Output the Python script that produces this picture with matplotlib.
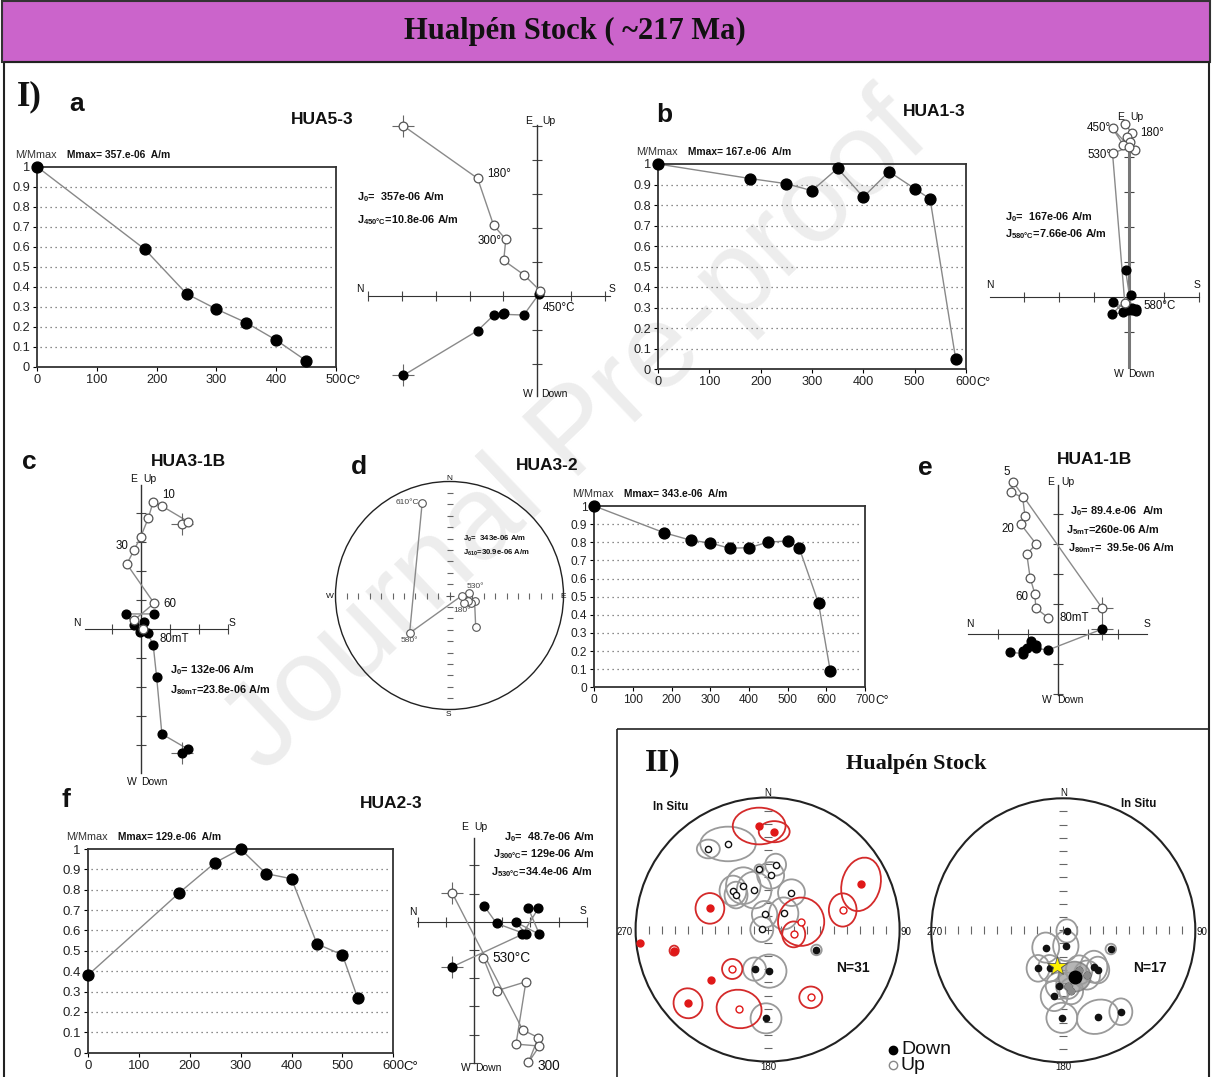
import numpy as np
import matplotlib
matplotlib.use('Agg')
import matplotlib.pyplot as plt
from matplotlib.patches import Rectangle, Circle, Ellipse

W, H = 1213, 1077
plt.rcParams['font.family'] = ['Liberation Sans', 'DejaVu Sans']
SERIF = ['Liberation Serif', 'DejaVu Serif']

# ---------------- data ----------------
# normalised intensity decay (M/Mmax) vs temperature
a_temp = [0, 180, 250, 300, 350, 400, 450]
a_ratio = [1.0, 0.588, 0.365, 0.288, 0.22, 0.133, 0.03]
b_temp = [0, 180, 250, 300, 350, 400, 450, 500, 530, 580]
b_ratio = [1.0, 0.929, 0.904, 0.870, 0.979, 0.839, 0.963, 0.880, 0.830, 0.049]
d_temp = [0, 180, 250, 300, 350, 400, 450, 500, 530, 580, 610]
d_ratio = [1.0, 0.853, 0.811, 0.796, 0.767, 0.770, 0.801, 0.807, 0.768, 0.463, 0.092]
f_temp = [0, 180, 250, 300, 350, 400, 450, 500, 530]
f_ratio = [0.380, 0.786, 0.933, 1.0, 0.879, 0.854, 0.534, 0.480, 0.267]

# Zijderveld diagrams (axis-tick units); h = horizontal proj. (filled), v = vertical proj. (open)
a_hx = [-3.95, -1.76, -1.28, -0.97, -1.00, -0.40, 0.05]
a_hy = [-2.35, -1.03, -0.57, -0.52, -0.55, -0.57, 0.05]
a_vx = [-3.95, -1.76, -1.29, -0.93, -0.99, -0.40, 0.08]
a_vz = [5.01, 3.46, 2.08, 1.66, 1.04, 0.62, 0.15]

b_hx = [-0.10, 0.08, 0.19, 0.08, 0.19, -0.02, -0.47, -0.16, -0.49, 0.05]
b_hy = [0.78, -0.36, -0.34, -0.30, -0.38, -0.36, -0.13, -0.43, -0.49, 0.07]
b_vx = [-0.11, 0.08, -0.07, 0.03, 0.17, -0.16, -0.47, 0.00, -0.47, -0.12]
b_vz = [4.95, 4.69, 4.57, 4.45, 4.21, 4.35, 4.83, 4.30, 4.11, -0.17]

c_hx = [1.39, 1.62, 0.71, 0.53, 0.41, 0.22, 0.09, -0.05, -0.24, -0.53, 0.44]
c_hy = [-4.28, -4.14, -3.61, -1.66, -0.54, -0.14, 0.25, -0.08, 0.14, 0.53, 0.53]
c_vx = [1.39, 1.62, 0.71, 0.41, 0.24, -0.02, -0.25, -0.50, 0.44, -0.24, 0.07]
c_vz = [3.62, 3.71, 4.25, 4.40, 3.83, 3.19, 2.73, 2.25, 0.90, 0.32, 0.02]

e_hx = [1.47, -0.31, -0.73, -0.89, -0.73, -1.03, -1.17, -1.17, -1.58]
e_hy = [0.17, -0.52, -0.47, -0.21, -0.36, -0.47, -0.56, -0.64, -0.60]
e_vx = [1.47, -1.48, -1.56, -1.17, -1.09, -1.23, -0.72, -1.03, -0.92, -0.76, -0.73, -0.31]
e_vz = [0.89, 5.07, 4.73, 4.57, 3.95, 3.67, 3.01, 2.67, 1.89, 1.34, 0.87, 0.55]

f_hx = [-0.77, 1.71, 2.28, 1.93, 2.32, 1.49, 1.86, 0.80, 0.35]
f_hy = [-1.60, -0.45, 0.47, 0.47, -0.45, -0.02, -0.45, -0.06, 0.57]
f_vx = [-0.77, 1.73, 2.28, 1.93, 2.32, 1.49, 1.84, 0.80, 0.33]
f_vz = [1.01, -3.84, -4.11, -4.99, -4.41, -4.34, -2.13, -2.45, -1.28]

# d) HUA3-2 stereonet path (east, north on unit net), all upper hemisphere
d_e = [0.23, 0.22, 0.19, 0.16, 0.13, 0.17, 0.11, -0.35, -0.24]
d_n = [-0.28, -0.05, -0.07, -0.05, -0.07, 0.02, 0.00, -0.33, 0.81]

# II) site means, in situ, N=31 (red group and gray group)
r_e = [-0.064, 0.050, 0.708, 0.569, -0.437, 0.254, 0.198, -0.968, -0.708, -0.429, -0.268, -0.603, -0.216, 0.327]
r_n = [0.784, 0.741, 0.342, 0.148, 0.160, 0.059, -0.037, -0.100, -0.160, -0.382, -0.299, -0.559, -0.602, -0.514]
r_down = [1, 1, 1, 0, 1, 0, 0, 1, 1, 1, 0, 1, 0, 0]
r_a95x = [0.20, 0.117, 0.146, 0.105, 0.109, 0.175, 0.087, 0, 0.035, 0, 0.077, 0.109, 0.171, 0.087]
r_a95y = [0.139, 0.080, 0.206, 0.126, 0.116, 0.183, 0.098, 0, 0.038, 0, 0.076, 0.114, 0.145, 0.082]
r_ang = [0, 0, -15, 0, 0, 0, 0, 0, 0, 0, 0, 20, -10, 0]

g_e = [-0.449, -0.300, 0.061, -0.064, 0.023, -0.184, -0.262, -0.239, -0.102, 0.181, -0.023, 0.122, -0.044, 0.370, -0.099, 0.012, -0.012]
g_n = [0.610, 0.648, 0.491, 0.458, 0.410, 0.332, 0.294, 0.261, 0.299, 0.279, 0.115, 0.122, 0.001, -0.155, -0.300, -0.315, -0.673]
g_down = [0, 0, 0, 0, 0, 0, 0, 0, 0, 0, 0, 0, 0, 1, 1, 1, 1]
g_a95x = [0.087, 0.21, 0.079, 0.035, 0.102, 0.131, 0.102, 0.087, 0.131, 0.102, 0.096, 0.111, 0.087, 0.04, 0.087, 0.131, 0.117]
g_a95y = [0.071, 0.131, 0.083, 0.035, 0.101, 0.139, 0.114, 0.101, 0.139, 0.101, 0.101, 0.121, 0.096, 0.04, 0.088, 0.126, 0.114]

# II) N=17 selected sites
s_e = [0.027, 0.019, -0.133, -0.191, -0.104, 0.232, 0.261, -0.031, -0.069, -0.011, 0.260, 0.436, 0.360, 0.179, 0.035, 0.06, 0.12]
s_n = [-0.005, -0.119, -0.131, -0.288, -0.288, -0.276, -0.301, -0.420, -0.498, -0.663, -0.655, -0.617, -0.142, -0.339, -0.42, -0.46, -0.30]
s_a95x = [0.079, 0.096, 0.102, 0.087, 0.087, 0.102, 0.087, 0.102, 0.102, 0.117, 0.16, 0.087, 0.04, 0.10, 0.09, 0.09, 0.10]
s_a95y = [0.088, 0.114, 0.114, 0.101, 0.101, 0.121, 0.101, 0.101, 0.114, 0.114, 0.126, 0.101, 0.04, 0.11, 0.10, 0.10, 0.11]
s_ang = [0, 0, 0, 0, 0, 0, 0, 0, 0, 0, 20, 0, 0, 0, 0, 0, 0]
s_faint = [0, 0, 0, 0, 0, 0, 0, 0, 0, 0, 0, 0, 0, 1, 1, 1, 1]
mean_e, mean_n, mean_a95x, mean_a95y = 0.085, -0.351, 0.122, 0.114
ref_e, ref_n = -0.045, -0.268

# ---------------- figure ----------------
fig = plt.figure(figsize=(W / 100, H / 100), dpi=100)
bg = fig.add_axes([0, 0, 1, 1])
bg.set_xlim(0, W)
bg.set_ylim(H, 0)
bg.axis('off')


def px_axes(x0, y0, x1, y1):
    ax = fig.add_axes([x0 / W, 1 - y1 / H, (x1 - x0) / W, (y1 - y0) / H])
    ax.patch.set_alpha(0)
    return ax


def txt(x, y, s, size=8, bold=False, ha='left', family=None, **kw):
    bg.text(x, y, s, fontsize=size, fontweight='bold' if bold else 'normal', ha=ha, va='center',
            family=family if family else plt.rcParams['font.family'], color=kw.pop('color', '#111'), **kw)


# frames and header
bg.text(577, 435, 'Journal Pre-proof', rotation=43.5, fontsize=86, color='#EDEDED',
        ha='center', va='center', zorder=0)
bg.add_patch(Rectangle((2, 1), 1208, 61, fc='#CB64CB', ec='#333', lw=1.5))
bg.add_patch(Rectangle((4, 62), 1205, 1030, fill=False, ec='#222', lw=1.5))
bg.add_patch(Rectangle((617, 729), 592, 360, fill=False, ec='#222', lw=1.2))
txt(575, 31, 'Hualpén Stock ( ~217 Ma)', 22, True, 'center', SERIF)
txt(17, 97, 'I)', 25, True, 'left', SERIF)
txt(663, 763, 'II)', 23, True, 'center', SERIF)
txt(916, 764, 'Hualpén Stock', 16, True, 'center', SERIF)

# panel letters and sample names
for x, y, s in [(69, 104, 'a'), (656, 115, 'b'), (22, 462, 'c'), (351, 467, 'd'), (918, 468, 'e'), (62, 800, 'f')]:
    txt(x, y, s, 19, True)
for x, y, s in [(322, 120, 'HUA5-3'), (934, 112, 'HUA1-3'), (188, 462, 'HUA3-1B'),
                (547, 466, 'HUA3-2'), (1094, 460, 'HUA1-1B'), (391, 803, 'HUA2-3')]:
    txt(x, y, s, 12.5, True, 'center')


def ratio_plot(box, temps, vals, xmax, mmax, fs=9.2):
    x0, y0, x1, y1 = box
    ax = px_axes(x0, y0, x1, y1)
    ax.set_xlim(0, xmax)
    ax.set_ylim(0, 1)
    for g in np.arange(1, 10) / 10:
        ax.axhline(g, xmin=0.01, xmax=0.99, color='#666', lw=0.9, ls=(0, (1, 3)), zorder=1)
    ax.plot(temps, vals, color='#888', lw=1, zorder=2)
    ax.plot(temps, vals, 'o', color='black', ms=7.8, zorder=3, clip_on=False)
    ax.set_xticks(range(0, xmax + 1, 100))
    yt = np.round(np.arange(0, 11) / 10, 1)
    ax.set_yticks(yt)
    ax.set_yticklabels(['0'] + ['%.1f' % v for v in yt[1:-1]] + ['1'])
    ax.tick_params(labelsize=fs, length=3, width=0.8, pad=2, labelcolor='#222')
    for s in ax.spines.values():
        s.set_linewidth(1.3)
        s.set_color('#333')
    txt(x1 + 10, y1 + 14, 'C°', fs)
    txt(x0 - 22, y0 - 12, 'M/Mmax', 7.8, color='#333')
    txt(x0 + 30, y0 - 12, 'Mmax= %s  A/m' % mmax, 7.4, True)
    return ax


ratio_plot((37, 166.7, 336, 366.7), a_temp, a_ratio, 500, '357.e-06')
ratio_plot((658, 164, 966, 369.3), b_temp, b_ratio, 600, '167.e-06')
ratio_plot((594.3, 506, 865, 687.3), d_temp, d_ratio, 700, '343.e-06', 8.6)
ratio_plot((87.8, 849, 393.4, 1052.7), f_temp, f_ratio, 600, '129.e-06', 9.5)


def zij(ox, oy, u, xlo, xhi, ylo, yhi, hx, hy, vx, vz, cross=True, vlw=1.0, vcol='#333'):
    ax = px_axes(ox + xlo * u, oy - yhi * u, ox + xhi * u, oy - ylo * u)
    ax.set_xlim(xlo, xhi)
    ax.set_ylim(ylo, yhi)
    ax.spines['left'].set_position(('data', 0))
    ax.spines['bottom'].set_position(('data', 0))
    ax.spines['top'].set_visible(False)
    ax.spines['right'].set_visible(False)
    ax.spines['bottom'].set_color('#333')
    ax.spines['left'].set_color(vcol)
    ax.spines['left'].set_linewidth(vlw)
    ax.set_xticks([t for t in range(int(np.ceil(xlo)), int(np.floor(xhi)) + 1) if t != 0])
    ax.set_yticks([t for t in range(int(np.ceil(ylo)), int(np.floor(yhi)) + 1) if t != 0])
    ax.tick_params(direction='inout', length=7, width=0.8, color='#444',
                   labelbottom=False, labelleft=False)
    ax.plot(hx, hy, color='#8a8a8a', lw=1, zorder=3, clip_on=False)
    ax.plot(vx, vz, color='#8a8a8a', lw=1, zorder=3, clip_on=False)
    if cross:
        ax.plot([hx[0], vx[0]], [hy[0], vz[0]], '+', color='#666', ms=16, mew=0.8, zorder=3, clip_on=False)
    ax.plot(hx, hy, 'o', mfc='black', mec='black', ms=6.3, zorder=4, clip_on=False)
    ax.plot(vx, vz, 'o', mfc='white', mec='#555', ms=6.3, mew=0.9, zorder=5, clip_on=False)
    return ax


def axis_labels(e, w, n, s, up_off=8):
    txt(e[0], e[1], 'E', 7.5, ha='center')
    txt(e[0] + up_off, e[1], 'Up', 7.5)
    txt(w[0], w[1], 'W', 7.5, ha='center')
    txt(w[0] + up_off, w[1], 'Down', 7.5)
    txt(n[0], n[1], 'N', 7.5, ha='center')
    txt(s[0], s[1], 'S', 7.5, ha='center')


def jtext(x, y, sub, val, size=7.8):
    txt(x, y, r'J$_{\mathregular{%s}}$%s' % (sub, val), size, True)


# a) HUA5-3
zij(537.3, 295.7, 33.9, -5.0, 2.15, -2.97, 5.03, a_hx, a_hy, a_vx, a_vz)
axis_labels((529, 121), (528, 394), (360, 289), (612, 289), 13)
txt(487, 174, '180°', 8.3)
txt(478, 241, '300°', 8.3)
txt(543, 308, '450°C', 8.3)
jtext(357, 197, '0', '=  357e-06 A/m')
jtext(357, 220, '450°C', '=10.8e-06 A/m')

# b) HUA1-3
zij(1129, 297.3, 35, -3.97, 2.0, -1.98, 4.26, b_hx, b_hy, b_vx, b_vz, cross=False, vlw=2.2, vcol='#777')
axis_labels((1121, 117), (1119, 374), (990, 285), (1197, 285), 9)
txt(1111, 128, '450°', 8.3, ha='right')
txt(1140, 133, '180°', 8.3)
txt(1111, 155, '530°', 8.3, ha='right')
txt(1143, 306, '580°C', 8.3)
jtext(1005, 217, '0', '=  167e-06 A/m')
jtext(1005, 234, '580°C', '=7.66e-06 A/m')

# c) HUA3-1B
zij(141.3, 629.3, 29, -1.94, 3.0, -4.97, 4.98, c_hx, c_hy, c_vx, c_vz)
axis_labels((134, 479), (132, 782), (77, 623), (232, 623), 9)
txt(162, 495, '10', 8.3)
txt(122, 546, '30', 8.3, ha='center')
txt(163, 604, '60', 8.3)
txt(160, 639, '80mT', 8.3)
jtext(170, 670, '0', '= 132e-06 A/m')
jtext(170, 690, '80mT', '=23.8e-06 A/m')


# d) HUA3-2 stereonet
def net(cx, cy, R, lw=1.0, tick_ms=5):
    lim = 1.12
    ax = px_axes(cx - lim * R, cy - lim * R, cx + lim * R, cy + lim * R)
    ax.set_xlim(-lim, lim)
    ax.set_ylim(-lim, lim)
    ax.axis('off')
    ax.add_patch(Circle((0, 0), 1, fill=False, lw=lw, ec='#222'))
    t = np.arange(1, 10) / 10
    ax.plot(np.r_[-t, t], np.zeros(18), '|', ms=tick_ms, color='#666', mew=0.8)
    ax.plot(np.zeros(18), np.r_[-t, t], '_', ms=tick_ms, color='#666', mew=0.8)
    ax.plot(0, 0, '+', ms=6, color='#555', mew=0.8)
    return ax


axd = net(449.5, 595.5, 114)
axd.plot(d_e, d_n, color='#8a8a8a', lw=1, zorder=3)
axd.plot(d_e, d_n, 'o', mfc='white', mec='#555', ms=5.5, mew=0.8, zorder=4)
txt(449, 479, 'N', 6, ha='center')
txt(448, 714, 'S', 6, ha='center')
txt(330, 597, 'W', 6, ha='center')
txt(563, 597, 'E', 6, ha='center')
txt(419, 503, '610°C', 6, ha='right', color='#444')
txt(409, 641, '580°', 6, ha='center', color='#444')
txt(475, 587, '530°', 6, ha='center', color='#444')
txt(462, 610, '180°', 6, ha='center', color='#444')
jtext(463, 539, '0', '=  343e-06 A/m', 5.6)
jtext(463, 553, '610', '=30.9e-06 A/m', 5.6)

# e) HUA1-1B
zij(1057.7, 634.3, 30, -2.98, 2.97, -2.02, 4.98, e_hx, e_hy, e_vx, e_vz)
axis_labels((1051, 482), (1047, 700), (970, 624), (1147, 624), 10)
txt(1007, 472, '5', 8.3, ha='center')
txt(1008, 529, '20', 8.3, ha='center')
txt(1022, 597, '60', 8.3, ha='center')
txt(1060, 618, '80mT', 8.3)
jtext(1070, 511, '0', '= 89.4.e-06  A/m')
jtext(1066, 530, '5mT', '=260e-06 A/m')
jtext(1068, 548, '80mT', '=  39.5e-06 A/m')

# f) HUA2-3
zij(474, 921.7, 28.2, -2.01, 4.0, -5.02, 2.96, f_hx, f_hy, f_vx, f_vz)
axis_labels((465, 827), (466, 1068), (413, 912), (583, 911), 9)
txt(492, 958, '530°C', 9.8)
txt(537, 1066, '300', 9.8)
jtext(504, 837, '0', '=  48.7e-06 A/m')
jtext(493, 854, '300°C', '= 129e-06 A/m')
jtext(491, 872, '530°C', '=34.4e-06 A/m')


# II) site-mean stereonets
def sites(ax, e, n, ax95, ay95, ang, down, ecol, mcol, ms=4.5):
    for i in range(len(e)):
        if ax95[i] > 0:
            ax.add_patch(Ellipse((e[i], n[i]), 2 * ax95[i], 2 * ay95[i], angle=ang[i],
                                 fill=False, ec=ecol, lw=1.3, zorder=2))
    e = np.array(e)
    n = np.array(n)
    dn = np.array(down, bool)
    ax.plot(e[dn], n[dn], 'o', color=mcol, ms=ms, zorder=4)
    ax.plot(e[~dn], n[~dn], 'o', mfc='white', mec=mcol, ms=ms, mew=1, zorder=4)


axL = net(767.6, 929.5, 132, lw=1.5, tick_ms=6)
sites(axL, g_e, g_n, g_a95x, g_a95y, [0] * len(g_e), g_down, '#9a9a9a', '#111')
sites(axL, r_e, r_n, r_a95x, r_a95y, r_ang, r_down, '#D42A2A', '#E01818', 5)

axR = net(1063.3, 930.3, 132, lw=1.5, tick_ms=6)
axR.add_patch(Ellipse((mean_e, mean_n), 2 * mean_a95x, 2 * mean_a95y, fc='#9c9c9c', ec='#777',
                      alpha=0.75, lw=1.2, zorder=3))
sites(axR, s_e, s_n, s_a95x, s_a95y, s_ang, [1] * len(s_e), '#9a9a9a', '#111')
fe = np.array(s_e)[np.array(s_faint, bool)]
fn = np.array(s_n)[np.array(s_faint, bool)]
axR.plot(fe, fn, 'o', color='#8a8a8a', ms=4.5, zorder=5)
axR.plot(mean_e, mean_n, 'o', color='black', ms=9, zorder=6)
axR.plot(ref_e, ref_n, '*', mfc='#FFF200', mec='#555', mew=0.6, ms=15, zorder=7)

for cx in (768, 1063.5):
    txt(cx, 793, 'N', 7, ha='center')
    txt(cx, 1067, '180', 7, ha='center')
txt(625, 932, '270', 7, ha='center')
txt(906, 932, '90', 7, ha='center')
txt(935, 932, '270', 7, ha='center')
txt(1202, 932, '90', 7, ha='center')
txt(671, 807, 'In Situ', 8.3, True, 'center')
txt(1139, 804, 'In Situ', 8.3, True, 'center')
txt(853, 968, 'N=31', 10, True, 'center')
txt(1150, 968, 'N=17', 10, True, 'center')

# legend
bg.plot(892.5, 1050, 'o', color='black', ms=6)
bg.plot(892.5, 1065, 'o', mfc='white', mec='#888', ms=6)
txt(901, 1049, 'Down', 14)
txt(901, 1066, 'Up', 14)

fig.savefig('out.png', dpi=100)
